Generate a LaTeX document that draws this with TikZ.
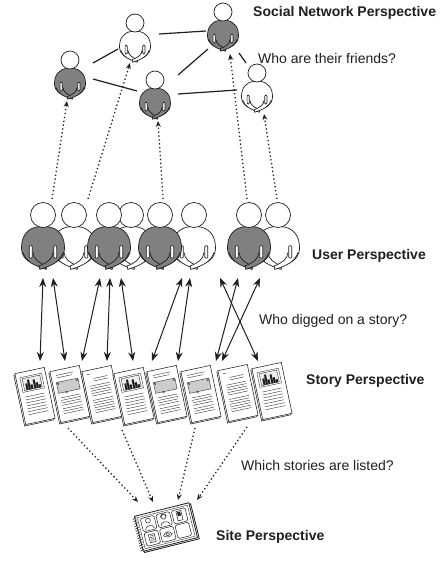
\documentclass[tikz,border=0pt]{standalone}
\usepackage{fontspec}
\setmainfont{Liberation Sans}
\usetikzlibrary{arrows.meta}
\definecolor{bodygray}{gray}{0.5}
\definecolor{boxgray}{gray}{0.8}
\definecolor{inkgray}{gray}{0.12}

% drawing commands for the story pages (page centred at the origin, y grows downwards)
\newcommand\storysheet{%
  \draw[sheet] (-16.4,-24.8) rectangle (13.6,27.2);
  \draw[sheet] (-15,-26) rectangle (15,26);
}
\newcommand\storyphoto{%
  \draw[rule] (-11,-21) rectangle (11,-6);
  \filldraw[rule, fill=gray!15] (-9,-19.5) rectangle (9,-7.5);
  \fill[inkgray] (-7,-7.5) rectangle (-5,-14) (-4.5,-7.5) rectangle (-2.5,-17.5)
    (-2,-7.5) rectangle (0,-12) (1,-7.5) rectangle (3,-16.5)
    (3.5,-7.5) rectangle (5.5,-13) (6,-7.5) rectangle (8,-10.5);
  \foreach \y in {-1,2,5,8,11,14,17} \draw[rule] (-10,\y) -- (10,\y);
}
\newcommand\storychart{%
  \draw[rule] (-10,-21) -- (8,-21);
  \draw[rule] (-10,-18.5) -- (6,-18.5);
  \filldraw[rule, fill=boxgray] (-11,-14) rectangle (11,-3);
  \filldraw[rule, fill=white] (-9.5,-12.5) circle (0.9) (9.5,-12.5) circle (0.9) (-3,-2.5) circle (0.9);
  \foreach \y in {2,4.5,7,9.5,13,15.5,18} \draw[rule] (-10,\y) -- (10,\y);
}
\newcommand\storylines{%
  \draw[rule] (-11,-22) -- (-7,-22);
  \foreach \y in {-17,-14.5} \draw[rule] (-5,\y) -- (9,\y);
  \foreach \y in {-10,-7.5,-5,-2.5,0} \draw[rule] (-10,\y) -- (10,\y);
  \foreach \y in {4.5,7,9.5,12,14.5,17} \draw[rule] (-10,\y) -- (10,\y);
}

\tikzset{
  lab/.style={anchor=west, inner sep=0pt, text=inkgray, font=\fontsize{14}{16}\selectfont},
  headlab/.style={lab, font=\fontsize{14}{16}\selectfont\bfseries},
  friend/.style={draw=inkgray, line width=1.2pt},
  digg/.style={draw=inkgray, line width=1pt, {Stealth[length=9pt,width=7pt]}-{Stealth[length=9pt,width=7pt]}},
  dotlink/.style={draw=inkgray, line width=1.3pt, dash pattern=on 1.3pt off 2.6pt, -{Stealth[length=6pt,width=5pt]}},
  sheet/.style={draw=inkgray, fill=white, line width=0.55pt},
  rule/.style={draw=inkgray, line width=0.35pt},
  % a seated person seen from the front, arms folded; argument = shirt colour
  pics/person/.style={code={
    \filldraw[draw=inkgray, line width=0.7pt, fill=#1] (-0.3,0.93)
      .. controls (-1.25,1.0) and (-1.75,1.7) .. (-1.72,2.7)
      .. controls (-1.68,3.5) and (-1.0,4.0) .. (0,4.0)
      .. controls (1.0,4.0) and (1.68,3.5) .. (1.72,2.7)
      .. controls (1.75,1.7) and (1.25,1.0) .. (0.3,0.93) -- cycle;
    \foreach \s in {1,-1} {
      \begin{scope}[xscale=\s]
        \fill[#1] (-1.6,3.0) .. controls (-1.35,3.75) and (-0.7,4.05) .. (0.25,4.35)
          -- (0.32,4.08) .. controls (-0.3,3.85) and (-0.75,3.55) .. (-0.8,3.0) -- cycle;
        \draw[inkgray, line width=0.7pt] (-1.6,3.0) .. controls (-1.35,3.75) and (-0.7,4.05) .. (0.25,4.35)
          -- (0.32,4.08) .. controls (-0.3,3.85) and (-0.75,3.55) .. (-0.8,3.0);
        \draw[inkgray, line width=0.7pt, fill=white, rounded corners=1pt] (-1.1,2.45) rectangle (-0.86,3.45);
      \end{scope}
    }
    \draw[inkgray, line width=0.7pt, fill=white] (0,0) circle (1);
  }},
  pics/photopage/.style={code={\storysheet\storyphoto}},
  pics/chartpage/.style={code={\storysheet\storychart}},
  pics/textpage/.style={code={\storysheet\storylines}},
  % the site: a spiral-bound album of item thumbnails
  pics/sitebook/.style={code={
    \draw[line width=0.8pt, draw=inkgray, fill=white] (-27,-16.5) rectangle (29.5,19.5);
    \draw[line width=0.8pt, draw=inkgray, fill=white] (-28,-18) rectangle (28,18);
    \draw[rule] (-25.5,-16) rectangle (26,16);
    \foreach \y in {-16.5,-14,...,16.5} \draw[inkgray, line width=0.5pt] (-30.5,\y+1.2) -- (-26.5,\y);
    \foreach \cx in {-16,0,16} \foreach \cy in {-7.5,7.5}
      \draw[rule, line width=0.5pt, rounded corners=1.5pt] (\cx-7,\cy-6.8) rectangle (\cx+7,\cy+6.8);
    % profile
    \draw[rule, line width=0.5pt] (-16,-10.5) circle (2.4);
    \draw[rule, line width=0.5pt] (-20.5,-2) .. controls (-20.5,-6.5) and (-11.5,-6.5) .. (-11.5,-2);
    % support agent with headset
    \draw[rule, line width=0.5pt] (0,-10.5) circle (2.4);
    \draw[rule, line width=0.5pt] (-3,-10.5) arc (180:360:3);
    \draw[rule, line width=0.5pt] (-4.5,-2) .. controls (-4.5,-6.5) and (4.5,-6.5) .. (4.5,-2);
    % document
    \draw[rule, line width=0.5pt, fill=white] (13.3,-12.5) rectangle (18.3,-3);
    \fill[inkgray] (14.3,-11.5) rectangle (17.3,-7.5);
    % book
    \draw[rule, line width=0.5pt] (-19,3.5) rectangle (-13,11.5);
    \foreach \y in {5,6.5,8,9.5} \draw[rule] (-18,\y) -- (-14,\y);
    % eye
    \draw[rule, line width=0.5pt] (-4.5,8) .. controls (-2,4) and (2,4) .. (4.5,8)
      .. controls (2,11) and (-2,11) .. (-4.5,8);
    \draw[rule, line width=0.5pt] (0,7.6) circle (1.8);
  }},
}

\begin{document}
\begin{tikzpicture}[x=1pt, y=-1pt]
  \useasboundingbox (0,0) rectangle (444,568);
  \fill[white] (0,0) rectangle (444,568);

  % ---------- social network ----------
  \pic[scale=9] (p2) at (135,23) {person=white};
  \pic[scale=9] (p5) at (257,73) {person=white};
  \pic[scale=9] (p1) at (70,60) {person=bodygray};
  \pic[scale=9] (p3) at (223,12) {person=bodygray};
  \pic[scale=9] (p4) at (155,80) {person=bodygray};

  \coordinate (f12a) at (93,63);   \coordinate (f12b) at (118,49);
  \coordinate (f14a) at (93,79);   \coordinate (f14b) at (137,91);
  \coordinate (f23a) at (159,34);  \coordinate (f23b) at (206,31);
  \coordinate (f43a) at (178,75);  \coordinate (f43b) at (208,49);
  \coordinate (f45a) at (178,94);  \coordinate (f45b) at (237,90);
  \coordinate (f35a) at (239,53);  \coordinate (f35b) at (246,63);
  \foreach \a/\b in {f12a/f12b, f14a/f14b, f23a/f23b, f43a/f43b, f45a/f45b, f35a/f35b}
    \draw[friend] (\a) -- (\b);

  \node[headlab] (snp) at (253,13) {Social Network Perspective};
  \node[lab] (snq) at (258,58) {Who are their friends?};

  % ---------- users ----------
  \pic[scale=12.5] (u2) at (74,215) {person=white};
  \pic[scale=12.5] (u4) at (131,215) {person=white};
  \pic[scale=12.5] (u6) at (194,215) {person=white};
  \pic[scale=12.5] (u8) at (278,215) {person=white};
  \pic[scale=12.5] (u1) at (43,215) {person=bodygray};
  \pic[scale=12.5] (u3) at (109,215) {person=bodygray};
  \pic[scale=12.5] (u5) at (160,215) {person=bodygray};
  \pic[scale=12.5] (u7) at (249,215) {person=bodygray};

  \node[headlab] (up) at (312,256) {User Perspective};
  \node[lab] (uq) at (259,321) {Who digged on a story?};

  % users are projected onto the social network
  \coordinate (s1u) at (52,199);  \coordinate (s1p) at (67,101);
  \coordinate (s2u) at (88,199);  \coordinate (s2p) at (130,63);
  \coordinate (s3u) at (163,199); \coordinate (s3p) at (158,121);
  \coordinate (s4u) at (247,199); \coordinate (s4p) at (230,54);
  \coordinate (s5u) at (277,199); \coordinate (s5p) at (264,114);
  \foreach \i in {1,...,5} \draw[dotlink] (s\i u) -- (s\i p);

  % ---------- stories ----------
  \pic[rotate=12] (d1) at (35,396) {photopage};
  \pic[rotate=12] (d2) at (70,394) {chartpage};
  \pic[rotate=12] (d3) at (102,394) {textpage};
  \pic[rotate=12] (d4) at (134,396) {photopage};
  \pic[rotate=12] (d5) at (167,394) {chartpage};
  \pic[rotate=12] (d6) at (201,394) {chartpage};
  \pic[rotate=12] (d7) at (238,393) {textpage};
  \pic[rotate=12] (d8) at (272,391) {photopage};

  \node[headlab] (sp) at (306,381) {Story Perspective};

  % diggs: users <-> stories
  \coordinate (g1u) at (43,278);  \coordinate (g1d) at (40,361);
  \coordinate (g2u) at (53,278);  \coordinate (g2d) at (65,361);
  \coordinate (g3u) at (100,278); \coordinate (g3d) at (82,361);
  \coordinate (g4u) at (110,278); \coordinate (g4d) at (107,361);
  \coordinate (g5u) at (121,278); \coordinate (g5d) at (133,361);
  \coordinate (g6u) at (182,278); \coordinate (g6d) at (152,361);
  \coordinate (g7u) at (190,278); \coordinate (g7d) at (178,361);
  \coordinate (g8u) at (220,278); \coordinate (g8d) at (258,361);
  \coordinate (g9u) at (238,278); \coordinate (g9d) at (216,361);
  \coordinate (g10u) at (260,278); \coordinate (g10d) at (222,361);
  \foreach \i in {1,...,10} \draw[digg] (g\i u) -- (g\i d);

  % ---------- site ----------
  \pic[rotate=14] (site) at (166,527) {sitebook};
  \node[lab] (sq) at (241,465) {Which stories are listed?};
  \node[headlab] (stp) at (216,537) {Site Perspective};

  \coordinate (l1d) at (68,428);  \coordinate (l1s) at (138,502);
  \coordinate (l2d) at (122,430); \coordinate (l2s) at (153,502);
  \coordinate (l3d) at (195,428); \coordinate (l3s) at (178,500);
  \coordinate (l4d) at (247,427); \coordinate (l4s) at (197,500);
  \foreach \i in {1,...,4} \draw[dotlink] (l\i d) -- (l\i s);
\end{tikzpicture}
\end{document}
